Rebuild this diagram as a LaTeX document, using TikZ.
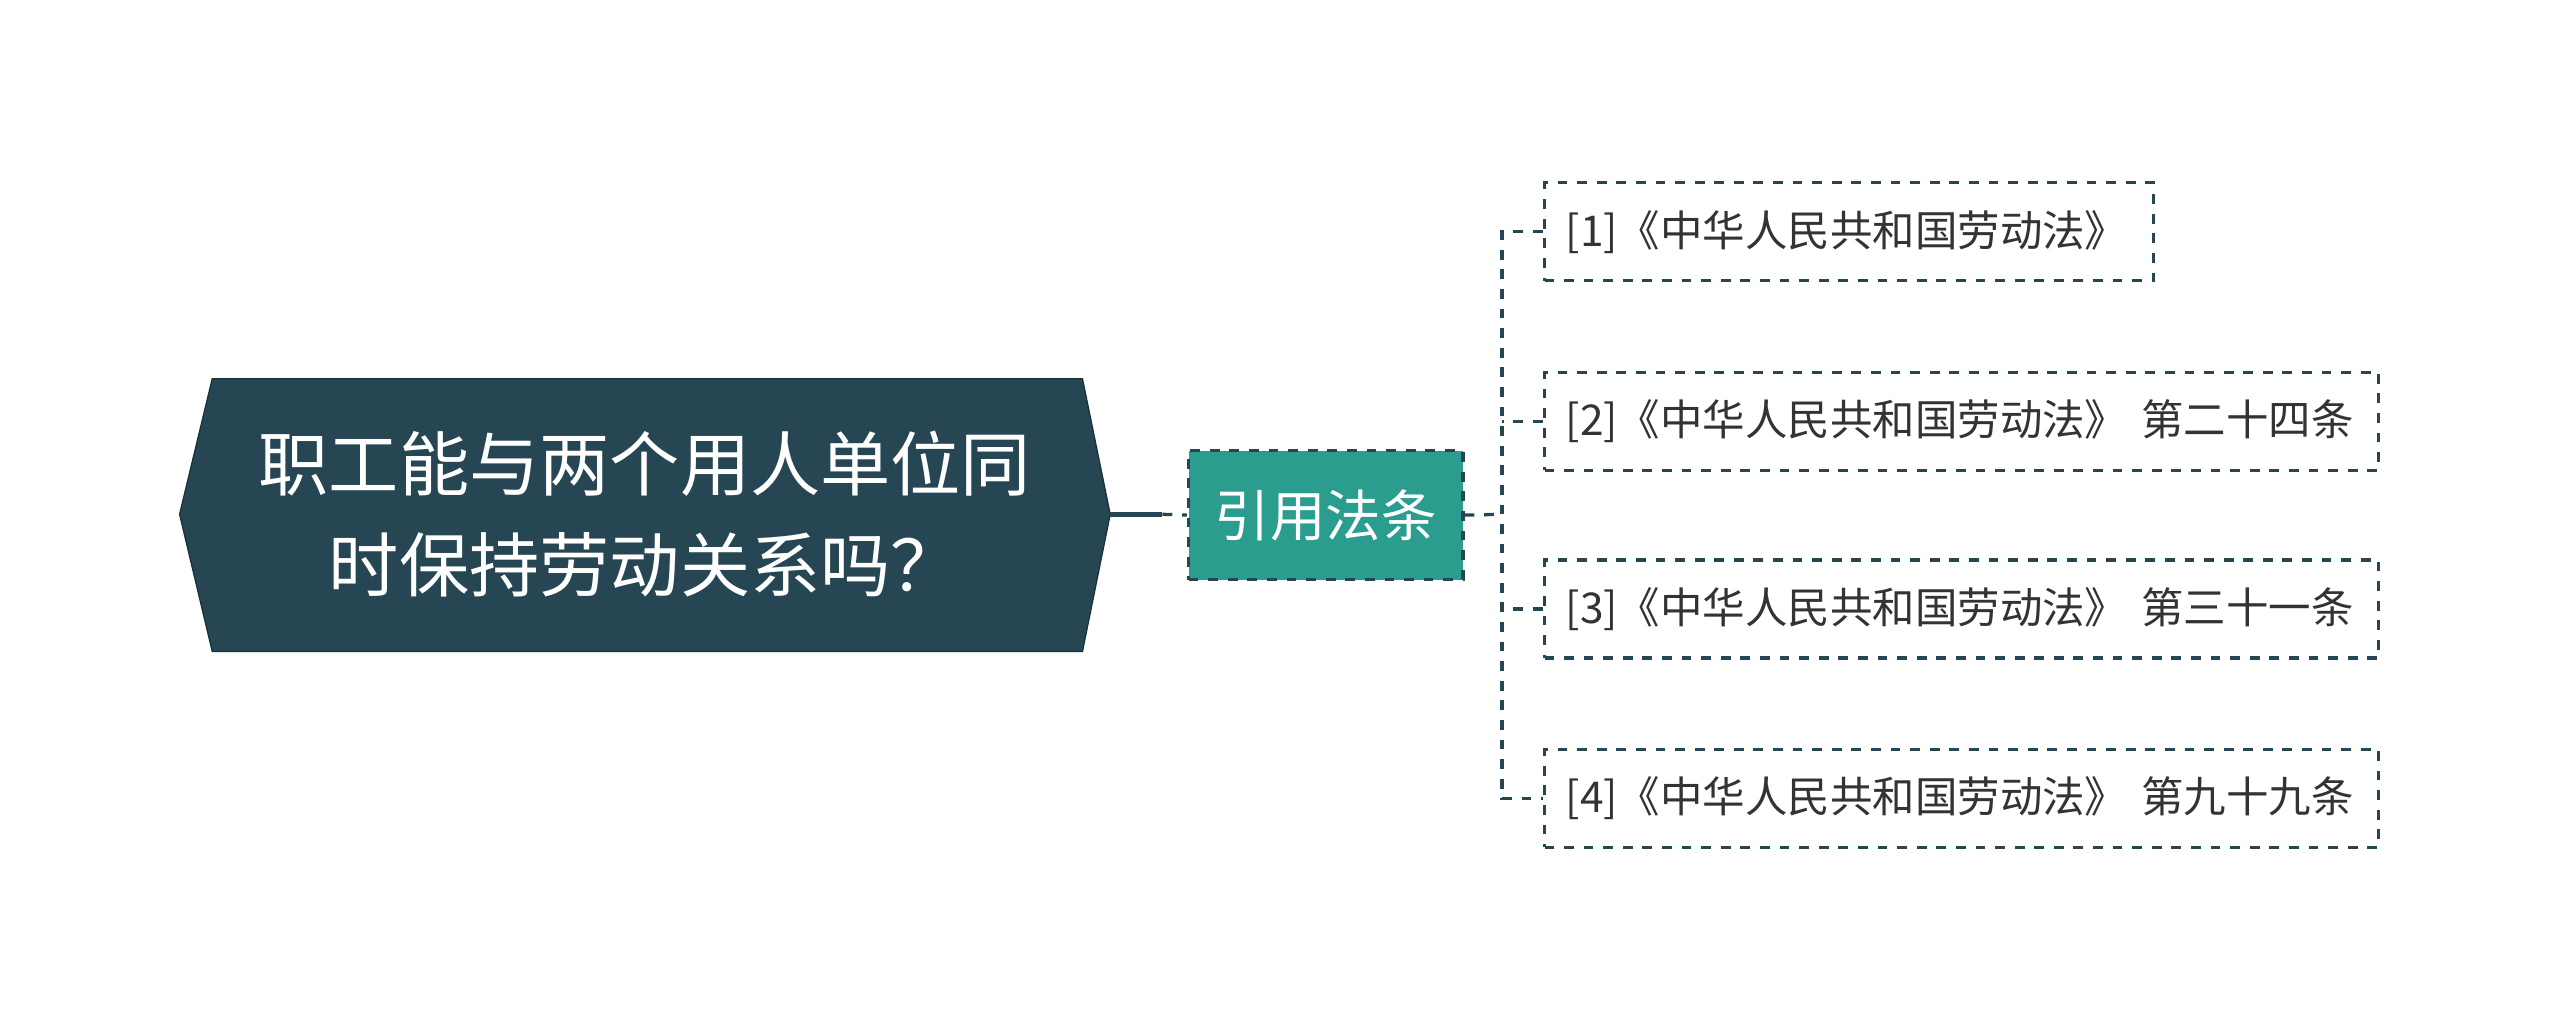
\documentclass[tikz,border=0pt]{standalone}
\usepackage{fontspec}
\setmainfont{Noto Sans CJK SC}
\begin{document}
\begin{tikzpicture}[x=0.5pt,y=-0.5pt,
  leaf/.style={draw=linec,dashed,line width=1pt,fill=white,anchor=west,minimum height=30pt,inner xsep=6.5pt,align=left,font=\fontsize{13}{15}\selectfont,text=txt},
  conn/.style={draw=linec,dashed,line width=1pt}]
\definecolor{rootc}{HTML}{264653}
\definecolor{midc}{HTML}{2A9D8F}
\definecolor{linec}{HTML}{264653}
\definecolor{txt}{HTML}{333333}
\useasboundingbox (0,0) rectangle (1568,632);
\fill[white] (0,0) rectangle (1568,632);
\fill[rootc,draw=rootc!70!black] (110,315) -- (130,232) -- (663,232) -- (680,315) -- (663,399) -- (130,399) -- cycle;
\node[text=white,align=left,font=\fontsize{21.5}{31}\selectfont] (root) at (395,315) {职工能与两个用人单位同\\\hspace*{1.0em}时保持劳动关系吗？};
\coordinate (rr) at (680,315);
\node[draw=linec,dashed,line width=1pt,fill=midc,text=white,minimum width=84pt,minimum height=39.5pt,font=\fontsize{17}{20}\selectfont] (mid) at (812,315.5) {引用法条};
\draw[linec,line width=1.5pt] (rr) -- (712,315);
\draw[conn] (712,315) -- (mid.west);
\node[leaf,text width=173.5pt] (b1) at (945,142) {[1]《中华人民共和国劳动法》};
\node[leaf,text width=242.5pt] (b2) at (945,258) {[2]《中华人民共和国劳动法》 第二十四条};
\node[leaf,text width=242.5pt] (b3) at (945,373) {[3]《中华人民共和国劳动法》 第三十一条};
\node[leaf,text width=242.5pt] (b4) at (945,489) {[4]《中华人民共和国劳动法》 第九十九条};
\coordinate (j) at (920,315);
\draw[conn] (mid.east) -- (j);
\draw[conn] (b1.west) -- (920,142) -- (920,489) -- (b4.west);
\draw[conn] (b2.west) -- (920,258);
\draw[conn] (b3.west) -- (920,373);
\end{tikzpicture}
\end{document}
